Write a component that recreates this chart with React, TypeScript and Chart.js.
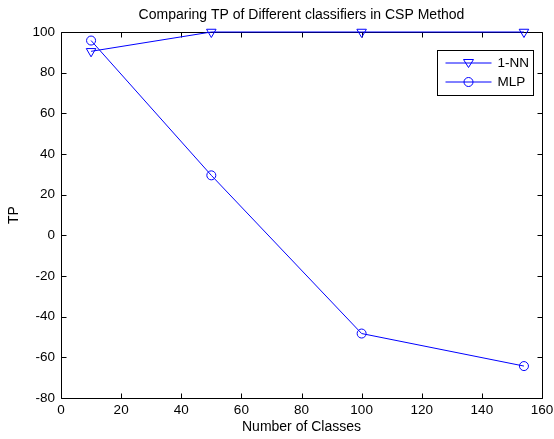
import React, { useEffect, useRef } from "react";
import { Chart, registerables } from "chart.js";

Chart.register(...registerables);

const xNN = [10, 50, 100, 154];
const yNN = [90.5, 100, 100, 100];
const xMLP = [10, 50, 100, 154];
const yMLP = [95.8, 29.5, -48.3, -64.3];
const xTicks = [0, 20, 40, 60, 80, 100, 120, 140, 160];
const yTicks = [-80, -60, -40, -20, 0, 20, 40, 60, 80, 100];
const seriesNames = ["1-NN", "MLP"];
const titleText = "Comparing TP of Different classifiers in CSP Method";
const xTitle = "Number of Classes";
const yTitle = "TP";

const FONT = "'Liberation Sans', Arial, sans-serif";
const BLUE = "rgb(0,0,255)";
const TICK_SIZE = 13.5;
const LABEL_SIZE = 14;

const framePlugin = {
  id: "frame",
  beforeDatasetsDraw(chart: any) {
    const { ctx, chartArea } = chart;
    const xs = chart.scales.x;
    const ys = chart.scales.y;
    const l = Math.round(chartArea.left) + 0.5;
    const r = Math.round(chartArea.right) + 0.5;
    const t = Math.round(chartArea.top) + 0.5;
    const b = Math.round(chartArea.bottom) + 0.5;
    ctx.save();
    ctx.strokeStyle = "#000";
    ctx.lineWidth = 1;
    ctx.beginPath();
    ctx.rect(l, t, r - l, b - t);
    const tl = 5;
    xTicks.forEach((v) => {
      const px = Math.round(xs.getPixelForValue(v)) + 0.5;
      ctx.moveTo(px, b);
      ctx.lineTo(px, b - tl);
      ctx.moveTo(px, t);
      ctx.lineTo(px, t + tl);
    });
    yTicks.forEach((v) => {
      const py = Math.round(ys.getPixelForValue(v)) + 0.5;
      ctx.moveTo(l, py);
      ctx.lineTo(l + tl, py);
      ctx.moveTo(r, py);
      ctx.lineTo(r - tl, py);
    });
    ctx.stroke();
    ctx.restore();
  },
};

function drawMarker(ctx: CanvasRenderingContext2D, kind: string, x: number, y: number) {
  ctx.beginPath();
  if (kind === "tri") {
    const s = 5;
    ctx.moveTo(x - s, y - s * 0.7);
    ctx.lineTo(x + s, y - s * 0.7);
    ctx.lineTo(x, y + s * 0.9);
    ctx.closePath();
  } else {
    ctx.arc(x, y, 4.5, 0, Math.PI * 2);
  }
  ctx.stroke();
}

const legendPlugin = {
  id: "customLegend",
  afterDraw(chart: any) {
    const { ctx, chartArea } = chart;
    ctx.save();
    // title centred over the plot area
    ctx.fillStyle = "#000";
    ctx.font = `${LABEL_SIZE}px ${FONT}`;
    ctx.textAlign = "center";
    ctx.textBaseline = "middle";
    ctx.fillText(titleText, (chartArea.left + chartArea.right) / 2, 15);

    const w = 96;
    const h = 45;
    const x = Math.round(chartArea.right - 9 - w) + 0.5;
    const y = Math.round(chartArea.top + 18) + 0.5;
    ctx.fillStyle = "#fff";
    ctx.fillRect(x, y, w, h);
    ctx.strokeStyle = "#000";
    ctx.lineWidth = 1;
    ctx.strokeRect(x, y, w, h);
    const rows = [y + 12.5, y + 31.5];
    const kinds = ["tri", "circ"];
    rows.forEach((ry, i) => {
      ctx.strokeStyle = BLUE;
      ctx.beginPath();
      ctx.moveTo(x + 8, ry);
      ctx.lineTo(x + 54, ry);
      ctx.stroke();
      drawMarker(ctx, kinds[i], x + 31, ry);
      ctx.fillStyle = "#000";
      ctx.font = `${TICK_SIZE}px ${FONT}`;
      ctx.textBaseline = "middle";
      ctx.textAlign = "left";
      ctx.fillText(seriesNames[i], x + 60, ry + 0.5);
    });
    ctx.restore();
  },
};

export default function App() {
  const ref = useRef<HTMLCanvasElement | null>(null);
  useEffect(() => {
    document.body.style.margin = "0";
    if (!ref.current) return;
    const chart = new Chart(ref.current, {
      type: "line",
      data: {
        datasets: [
          {
            label: seriesNames[0],
            data: xNN.map((x, i) => ({ x, y: yNN[i] })),
            borderColor: BLUE,
            borderWidth: 1,
            pointStyle: "triangle",
            pointRotation: 180,
            pointRadius: 5.5,
            pointBorderColor: BLUE,
            pointBorderWidth: 1,
            pointBackgroundColor: "rgba(0,0,0,0)",
            clip: false as any,
            tension: 0,
          },
          {
            label: seriesNames[1],
            data: xMLP.map((x, i) => ({ x, y: yMLP[i] })),
            borderColor: BLUE,
            borderWidth: 1,
            pointStyle: "circle",
            pointRadius: 4.5,
            pointBorderColor: BLUE,
            pointBorderWidth: 1,
            pointBackgroundColor: "rgba(0,0,0,0)",
            clip: false as any,
            tension: 0,
          },
        ],
      },
      options: {
        responsive: false,
        animation: false,
        layout: { padding: { left: 0, right: 12, top: 32, bottom: 0 } },
        plugins: {
          legend: { display: false },
          tooltip: { enabled: false },
          title: { display: false },
        },
        scales: {
          x: {
            type: "linear",
            min: 0,
            max: 160,
            afterBuildTicks: (s: any) => {
              s.ticks = xTicks.map((v) => ({ value: v }));
            },
            afterFit: (s: any) => {
              s.height = 41;
              s.paddingLeft = 0;
              s.paddingRight = 0;
            },
            grid: { display: false, drawTicks: false },
            border: { display: false },
            ticks: {
              color: "#000",
              font: { family: FONT, size: TICK_SIZE },
              padding: 4,
              maxRotation: 0,
              autoSkip: false,
            },
            title: {
              display: true,
              text: xTitle,
              color: "#000",
              font: { family: FONT, size: LABEL_SIZE },
              padding: { top: 0, bottom: 3.6 },
            },
          },
          y: {
            type: "linear",
            min: -80,
            max: 100,
            afterBuildTicks: (s: any) => {
              s.ticks = yTicks.map((v) => ({ value: v }));
            },
            afterFit: (s: any) => {
              s.width = 61;
              s.paddingTop = 0;
              s.paddingBottom = 0;
            },
            grid: { display: false, drawTicks: false },
            border: { display: false },
            ticks: {
              color: "#000",
              font: { family: FONT, size: TICK_SIZE },
              padding: 6,
              autoSkip: false,
            },
            title: {
              display: true,
              text: yTitle,
              color: "#000",
              font: { family: FONT, size: LABEL_SIZE },
              padding: { top: 6.1, bottom: 0 },
            },
          },
        },
      },
      plugins: [framePlugin, legendPlugin],
    });
    return () => chart.destroy();
  }, []);
  return (
    <div style={{ width: 554, height: 439, background: "#fff" }}>
      <canvas ref={ref} width={554} height={439} style={{ display: "block" }} />
    </div>
  );
}
